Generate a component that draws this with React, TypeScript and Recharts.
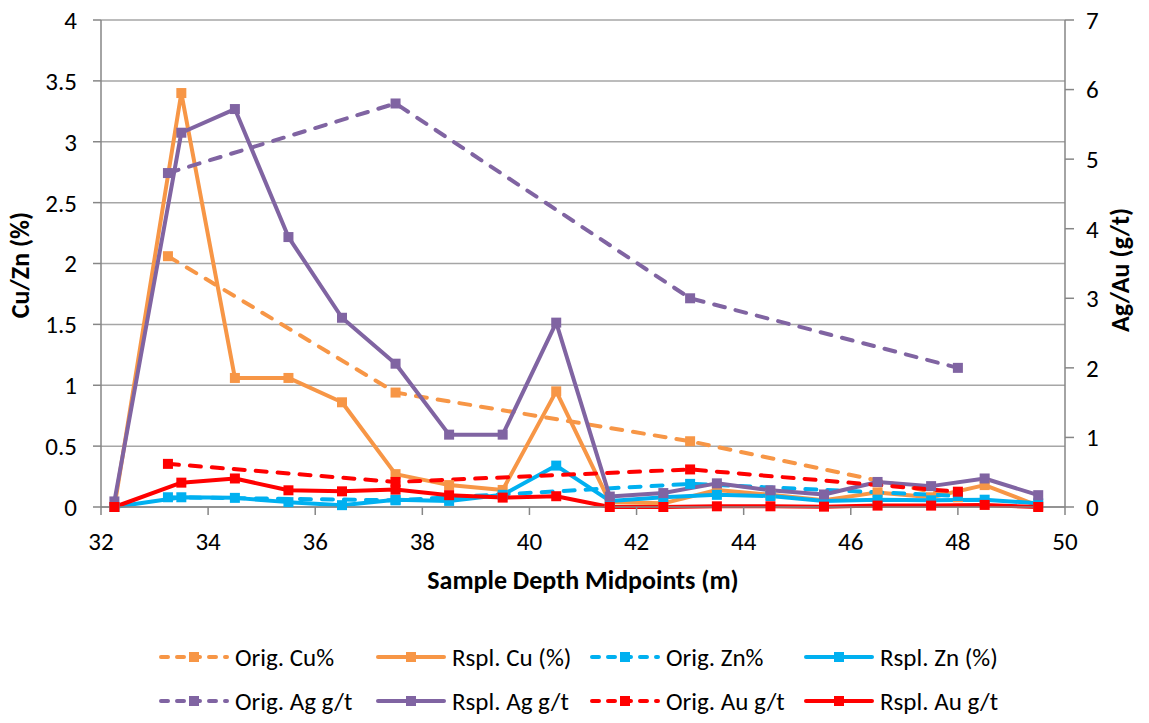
import React from 'react';
import { LineChart, Line, XAxis, YAxis, CartesianGrid } from 'recharts';

const rsplDepth = [32.25, 33.5, 34.5, 35.5, 36.5, 37.5, 38.5, 39.5, 40.5, 41.5, 42.5, 43.5, 44.5, 45.5, 46.5, 47.5, 48.5, 49.5];
const rsplCu = [0, 3.4, 1.06, 1.06, 0.86, 0.27, 0.18, 0.14, 0.95, 0.04, 0.03, 0.14, 0.1, 0.055, 0.12, 0.08, 0.18, 0.01];
const rsplZn = [0, 0.08, 0.075, 0.04, 0.015, 0.06, 0.05, 0.1, 0.34, 0.05, 0.08, 0.1, 0.09, 0.05, 0.06, 0.055, 0.06, 0.03];
const rsplAg = [0.08, 5.38, 5.72, 3.88, 2.72, 2.06, 1.04, 1.04, 2.65, 0.15, 0.2, 0.34, 0.24, 0.18, 0.36, 0.3, 0.41, 0.17];
const rsplAu = [0, 0.35, 0.41, 0.24, 0.225, 0.25, 0.17, 0.135, 0.155, 0, 0, 0.01, 0.01, 0.005, 0.02, 0.02, 0.03, 0];

const origDepth = [33.25, 37.5, 43, 48];
const origCu = [2.06, 0.94, 0.54, 0.08];
const origZn = [0.08, 0.055, 0.19, 0.09];
const origAg = [4.8, 5.8, 3.0, 2.0];
const origAu = [0.62, 0.36, 0.54, 0.22];

const xTicks = [32, 34, 36, 38, 40, 42, 44, 46, 48, 50];
const leftTicks = [0, 0.5, 1, 1.5, 2, 2.5, 3, 3.5, 4];
const rightTicks = [0, 1, 2, 3, 4, 5, 6, 7];

const ORANGE = '#F79646';
const CYAN = '#00B0F0';
const PURPLE = '#8064A2';
const RED = '#FF0000';
const FONT = 'Carlito, Lato, "Liberation Sans", Arial, sans-serif';
const AXIS = '#868686';

const toPoints = (xs: number[], ys: number[]) => xs.map((x, i) => ({ x, y: ys[i] }));

const series = [
  { name: 'Orig. Cu%', data: toPoints(origDepth, origCu), color: ORANGE, dashed: true, axis: 'left' },
  { name: 'Rspl. Cu (%)', data: toPoints(rsplDepth, rsplCu), color: ORANGE, dashed: false, axis: 'left' },
  { name: 'Orig. Zn%', data: toPoints(origDepth, origZn), color: CYAN, dashed: true, axis: 'left' },
  { name: 'Rspl. Zn (%)', data: toPoints(rsplDepth, rsplZn), color: CYAN, dashed: false, axis: 'left' },
  { name: 'Orig. Ag g/t', data: toPoints(origDepth, origAg), color: PURPLE, dashed: true, axis: 'right' },
  { name: 'Rspl. Ag g/t', data: toPoints(rsplDepth, rsplAg), color: PURPLE, dashed: false, axis: 'right' },
  { name: 'Orig. Au g/t', data: toPoints(origDepth, origAu), color: RED, dashed: true, axis: 'right' },
  { name: 'Rspl. Au g/t', data: toPoints(rsplDepth, rsplAu), color: RED, dashed: false, axis: 'right' },
];

const squareDot = (color: string) => (props: any) => {
  const { cx, cy, index } = props;
  if (cx == null || cy == null) return <g key={index} />;
  return <rect key={index} x={cx - 5} y={cy - 5} width={10} height={10} fill={color} />;
};

const legendCols = [158, 375, 589, 803];
const legendRows = [657, 701];

const LegendBox = () => (
  <>
    {series.map((s, i) => {
      const left = legendCols[i % 4];
      const top = legendRows[Math.floor(i / 4)];
      return (
        <div key={s.name} style={{ position: 'absolute', left, top: top - 16, height: 32, display: 'flex', alignItems: 'center', whiteSpace: 'nowrap' }}>
          <svg width={72} height={24}>
            <line x1={3} y1={12} x2={69} y2={12} stroke={s.color} strokeWidth={4}
              strokeDasharray={s.dashed ? '7 9' : undefined} strokeLinecap="round" />
            <rect x={31} y={7} width={10} height={10} fill={s.color} />
          </svg>
          <span style={{ marginLeft: 5, fontFamily: FONT, fontSize: 25, color: '#000' }}>{s.name}</span>
        </div>
      );
    })}
  </>
);

const App = () => {
  return (
    <div style={{ position: 'absolute', left: 0, top: 0, width: 1149, height: 723, background: '#fff' }}>
      <LineChart width={1149} height={723} margin={{ top: 20, right: 0, bottom: 116, left: 0 }}>
        <CartesianGrid yAxisId="left" vertical={false} stroke="#A6A6A6" strokeWidth={1.5} />
        <XAxis dataKey="x" type="number" domain={[32, 50]} ticks={xTicks} allowDuplicatedCategory={false}
          height={100} stroke={AXIS} strokeWidth={1.5} tickSize={8} tickMargin={17}
          tick={{ fill: '#000', fontSize: 25, fontFamily: FONT }}
          label={{
            content: (p: any) => (
              <text x={583} y={p.viewBox.y + 82} textAnchor="middle" fontFamily={FONT} fontSize={26} fontWeight="bold" fill="#000">
                Sample Depth Midpoints (m)
              </text>
            ),
          }} />
        <YAxis yAxisId="left" domain={[0, 4]} ticks={leftTicks} width={101} stroke={AXIS} strokeWidth={1.5}
          tickSize={8} tickMargin={16} tick={{ fill: '#000', fontSize: 25, fontFamily: FONT }}
          label={{
            content: () => (
              <text x={0} y={0} transform="translate(29,265) rotate(-90)" textAnchor="middle" fontFamily={FONT} fontSize={26} fontWeight="bold" fill="#000">
                Cu/Zn (%)
              </text>
            ),
          }} />
        <YAxis yAxisId="right" orientation="right" domain={[0, 7]} ticks={rightTicks} width={84} stroke={AXIS} strokeWidth={1.5}
          tickSize={9} tickMargin={12} tick={{ fill: '#000', fontSize: 25, fontFamily: FONT }}
          label={{
            content: () => (
              <text x={0} y={0} transform="translate(1129,270) rotate(-90)" textAnchor="middle" fontFamily={FONT} fontSize={26} fontWeight="bold" fill="#000">
                Ag/Au (g/t)
              </text>
            ),
          }} />
        {series.map((s) => (
          <Line key={s.name} data={s.data} dataKey="y" name={s.name} yAxisId={s.axis} type="linear"
            stroke={s.color} strokeWidth={4} strokeDasharray={s.dashed ? '11 11' : undefined}
            strokeLinecap={s.dashed ? 'round' : 'butt'} strokeLinejoin="round"
            dot={squareDot(s.color)} activeDot={false} isAnimationActive={false} />
        ))}
      </LineChart>
      <LegendBox />
    </div>
  );
};

export default App;
